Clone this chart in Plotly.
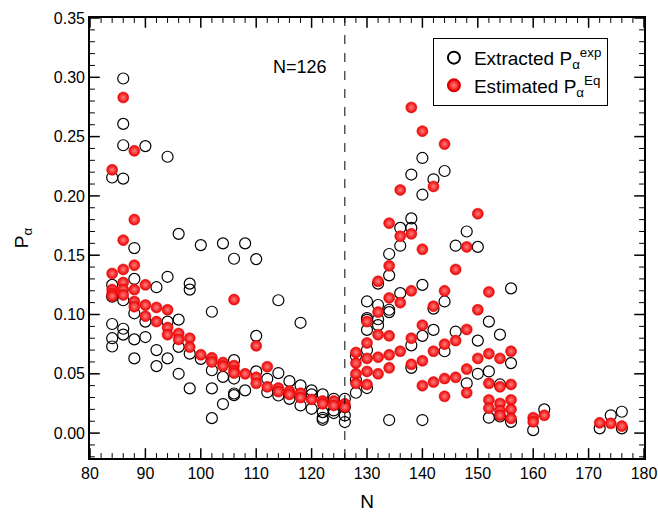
import plotly.graph_objects as go

# Extracted P_alpha^exp (open circles): neutron number and value
exp_N = [84]*6 + [86]*7 + [88]*5 + [90]*3 + [92]*3 + [94]*4 + [96]*4 + [98]*4 + [100]*2 + [102]*4 \
    + [104]*3 + [106]*5 + [108]*2 + [110]*3 + [112]*2 + [114]*3 + [116]*2 + [118]*3 + [120]*3 \
    + [122]*4 + [124]*3 + [126]*4 + [128]*3 + [130]*6 + [132]*4 + [134]*5 + [136]*3 + [138]*5 \
    + [140]*5 + [142]*3 + [144]*3 + [146]*2 + [148]*2 + [150]*3 + [152]*3 + [154]*3 + [156]*3 \
    + [160] + [162] + [172] + [174] + [176]*2
exp_P = [0.2155, 0.125, 0.115, 0.092, 0.080, 0.073,
         0.299, 0.2607, 0.2427, 0.2146, 0.112, 0.088, 0.083,
         0.156, 0.130, 0.101, 0.079, 0.063,
         0.242, 0.094, 0.081,
         0.123, 0.070, 0.0565,
         0.233, 0.1318, 0.094, 0.063,
         0.168, 0.0957, 0.0727, 0.050,
         0.126, 0.121, 0.067, 0.0377,
         0.1585, 0.0626,
         0.1023, 0.053, 0.0377, 0.0126,
         0.160, 0.0474, 0.0245,
         0.147, 0.0615, 0.046, 0.0334, 0.032,
         0.160, 0.036,
         0.1467, 0.082, 0.052,
         0.0458, 0.0345,
         0.112, 0.0506, 0.0317,
         0.0438, 0.0289,
         0.093, 0.0402, 0.0233,
         0.036, 0.0326, 0.0205,
         0.0326, 0.0177, 0.0129, 0.0112,
         0.0289, 0.0191, 0.0169,
         0.0289, 0.0219, 0.0149, 0.0093,
         0.065, 0.045, 0.034,
         0.111, 0.097, 0.0955, 0.087, 0.070, 0.038,
         0.126, 0.108, 0.096, 0.091,
         0.151, 0.133, 0.104, 0.102, 0.011,
         0.173, 0.158, 0.118,
         0.218, 0.181, 0.173, 0.074, 0.055,
         0.232, 0.201, 0.125, 0.082, 0.011,
         0.214, 0.105, 0.087,
         0.221, 0.111, 0.069,
         0.158, 0.0855,
         0.170, 0.042,
         0.157, 0.078, 0.050,
         0.094, 0.052, 0.013,
         0.083, 0.041, 0.014,
         0.122, 0.059, 0.0095,
         0.0025,
         0.020,
         0.004,
         0.015,
         0.018, 0.004]

# Estimated P_alpha^Eq (red spheres)
eq_N = [84]*5 + [86]*6 + [88]*6 + [90]*3 + [92]*2 + [94]*3 + [96]*2 + [98]*2 + [100] + [102]*2 \
    + [104]*2 + [106]*4 + [108] + [110]*3 + [112]*2 + [114]*2 + [116]*2 + [118]*2 + [120] \
    + [122]*2 + [124]*2 + [126]*2 + [128]*4 + [130]*5 + [132]*5 + [134]*6 + [136]*4 + [138]*5 \
    + [140]*5 + [142]*4 + [144]*5 + [146]*3 + [148]*4 + [150]*3 + [152]*5 + [154]*5 + [156]*5 \
    + [160]*2 + [162] + [172] + [174] + [176]
eq_P = [0.222, 0.1346, 0.121, 0.1177, 0.1155,
        0.283, 0.1627, 0.138, 0.127, 0.121, 0.1165,
        0.238, 0.180, 0.1416, 0.121, 0.111, 0.1066,
        0.125, 0.108, 0.0986,
        0.106, 0.094,
        0.104, 0.089, 0.083,
        0.084, 0.079,
        0.080, 0.0725,
        0.066,
        0.0635, 0.060,
        0.0595, 0.0565,
        0.1126, 0.057, 0.0528, 0.0506,
        0.050,
        0.0736, 0.047, 0.042,
        0.056, 0.039,
        0.038, 0.035,
        0.0354, 0.0326,
        0.0337, 0.030,
        0.0284,
        0.027, 0.0247,
        0.027, 0.0233,
        0.0247, 0.0219,
        0.068, 0.059, 0.050, 0.042,
        0.094, 0.076, 0.063, 0.052, 0.041,
        0.128, 0.102, 0.083, 0.064, 0.050,
        0.177, 0.141, 0.114, 0.082, 0.066, 0.055,
        0.205, 0.166, 0.110, 0.069,
        0.2746, 0.168, 0.120, 0.080, 0.058,
        0.2546, 0.155, 0.091, 0.061, 0.040,
        0.208, 0.107, 0.069, 0.043,
        0.2437, 0.120, 0.075, 0.046, 0.031,
        0.138, 0.078, 0.047,
        0.157, 0.0874, 0.054, 0.034,
        0.185, 0.104, 0.063,
        0.119, 0.067, 0.042, 0.028, 0.021,
        0.063, 0.039, 0.025, 0.019, 0.015,
        0.069, 0.041, 0.028, 0.020, 0.0124,
        0.013, 0.0095,
        0.015,
        0.0087,
        0.0082,
        0.0059]

x_ticks = [80, 90, 100, 110, 120, 130, 140, 150, 160, 170, 180]
y_ticks = [0.00, 0.05, 0.10, 0.15, 0.20, 0.25, 0.30, 0.35]
magic_N = 126
X_RANGE = [80, 180]
Y_RANGE = [-0.021, 0.35]

# minor tick positions (every 2 in N, every 0.01 in P)
x_minor = [v for v in range(X_RANGE[0], X_RANGE[1] + 1, 2) if v not in x_ticks]
y_minor = [round(k * 0.01, 2) for k in range(-2, 36) if round(k * 0.01, 2) not in y_ticks
           and Y_RANGE[0] <= k * 0.01 <= Y_RANGE[1]]

FONT = "Liberation Sans, Arial, sans-serif"

fig = go.Figure()
fig.add_trace(go.Scatter(
    x=exp_N, y=exp_P, mode="markers",
    name="Extracted P<sub>α</sub><sup>exp</sup>",
    marker=dict(symbol="circle-open", size=11, color="black", line=dict(width=1.2, color="black")),
))
fig.add_trace(go.Scatter(
    x=eq_N, y=eq_P, mode="markers",
    name="Estimated P<sub>α</sub><sup>Eq</sup>",
    marker=dict(symbol="circle", size=11, color="#ee0000",
                gradient=dict(type="radial", color="#ff8080"),
                line=dict(width=0.5, color="#dd0000")),
))


# inward tick marks: line markers centred on the frame, the outer half clipped by the plot area
def tick_trace(xs, ys, symbol, size, width):
    return go.Scatter(x=xs, y=ys, mode="markers", showlegend=False, hoverinfo="skip",
                      cliponaxis=True,
                      marker=dict(symbol=symbol, size=size, color="black",
                                  line=dict(width=width, color="black")))


for edge_y in Y_RANGE:
    fig.add_trace(tick_trace(x_ticks, [edge_y] * len(x_ticks), "line-ns-open", 14, 1.5))
    fig.add_trace(tick_trace(x_minor, [edge_y] * len(x_minor), "line-ns-open", 7, 1.0))
for edge_x in X_RANGE:
    fig.add_trace(tick_trace([edge_x] * len(y_ticks), y_ticks, "line-ew-open", 14, 1.5))
    fig.add_trace(tick_trace([edge_x] * len(y_minor), y_minor, "line-ew-open", 7, 1.0))

fig.add_shape(type="line", x0=magic_N, x1=magic_N, y0=0, y1=1, xref="x", yref="paper",
              line=dict(color="black", width=1, dash="dash"))
fig.add_annotation(x=117.9, y=0.309, text="N=126", showarrow=False,
                   font=dict(family=FONT, size=18, color="black"))

fig.update_layout(
    xaxis=dict(range=X_RANGE, tickmode="array", tickvals=x_ticks, ticks="",
               showline=True, linecolor="black", linewidth=1.6, mirror=True,
               showgrid=False, zeroline=False, automargin=False,
               tickfont=dict(family=FONT, size=16, color="black"),
               title=dict(text="N", font=dict(family=FONT, size=19, color="black"), standoff=14)),
    yaxis=dict(range=Y_RANGE, tickmode="array", tickvals=y_ticks, tickformat=".2f", ticks="",
               showline=True, linecolor="black", linewidth=1.6, mirror=True,
               showgrid=False, zeroline=False, automargin=False,
               tickfont=dict(family=FONT, size=16, color="black"),
               title=dict(text="P<sub>α</sub>", font=dict(family=FONT, size=19, color="black"),
                          standoff=20)),
)

fig.update_layout(
    width=658, height=525,
    margin=dict(l=90, r=14, t=18, b=67),
    paper_bgcolor="white", plot_bgcolor="white",
    font=dict(family=FONT, color="black"),
    legend=dict(x=0.619, y=0.955, xanchor="left", yanchor="top",
                bordercolor="black", borderwidth=1, bgcolor="white",
                font=dict(family=FONT, size=19, color="black"),
                itemsizing="constant", tracegroupgap=6),
    showlegend=True,
)

fig.write_html("out.html", config={"displayModeBar": False},
               post_script="document.body.style.margin='0px';")
